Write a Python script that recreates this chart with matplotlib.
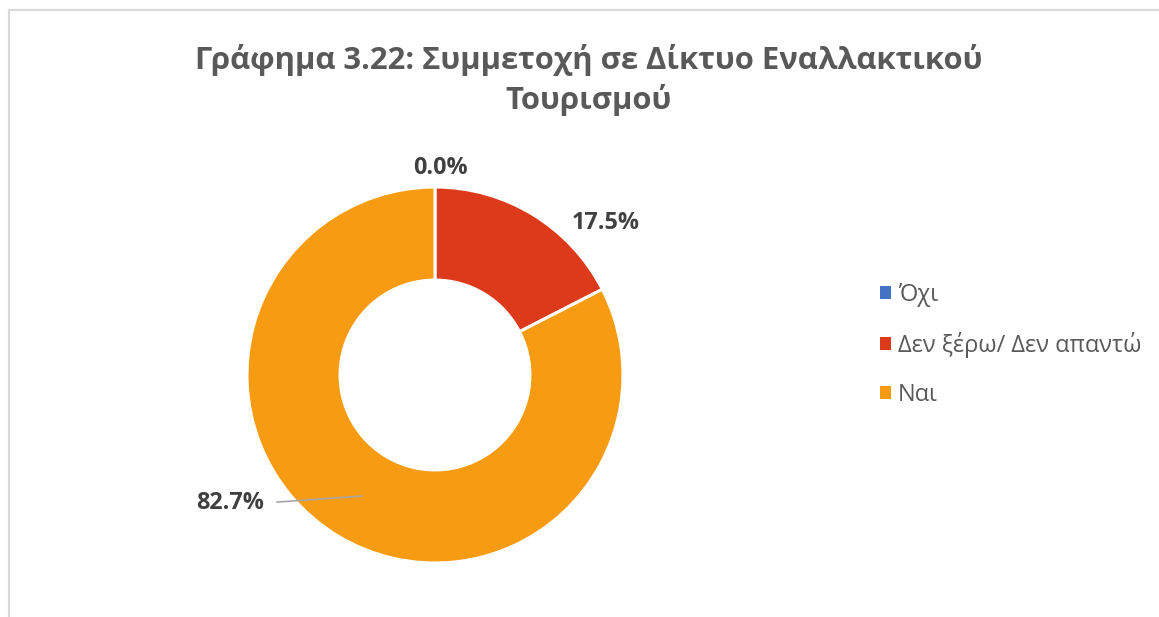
import matplotlib
matplotlib.use("Agg")
import matplotlib.pyplot as plt
from matplotlib.patches import Patch
from matplotlib.lines import Line2D

plt.rcParams["font.family"] = ["Open Sans", "DejaVu Sans"]

TITLE = "Γράφημα 3.22: Συμμετοχή σε Δίκτυο Εναλλακτικού\nΤουρισμού"
categories = ["Όχι", "Δεν ξέρω/ Δεν απαντώ", "Ναι"]
shares = [0.0, 17.5, 82.7]
colors = ["#4472C4", "#DC3A1A", "#F79B12"]
# label anchor points (data units, radius = 1), picked like Excel's best fit
label_pos = [(0.03, 1.10), (0.91, 0.81), (-1.09, -0.68)]

TEXT_DARK = "#404040"
TEXT_GREY = "#595959"

fig = plt.figure(figsize=(11.59, 6.17), dpi=100)

# light frame on top and left, like the cropped Excel chart area
fig.add_artist(Line2D([9 / 1159, 9 / 1159], [0, 1 - 10 / 617],
                      color="#D9D9D9", linewidth=1.5))
fig.add_artist(Line2D([9 / 1159, 1], [1 - 10 / 617, 1 - 10 / 617],
                      color="#D9D9D9", linewidth=1.5))

ax = fig.add_axes([247 / 1159, 54 / 617, 376 / 1159, 376 / 617])
wedges, _ = ax.pie(shares, colors=colors, startangle=90, counterclock=False,
                   radius=1.0,
                   wedgeprops=dict(width=0.495, edgecolor="white", linewidth=2.2))
ax.set_xlim(-1, 1)
ax.set_ylim(-1, 1)
ax.set_aspect("equal")
ax.axis("off")

for val, (x, y) in zip(shares, label_pos):
    ax.text(x, y, f"{val:.1f}%", ha="center", va="center", fontsize=16.8,
            fontweight="bold", color=TEXT_DARK, clip_on=False)

# leader line for the big slice
ax.plot([-0.84, -0.39], [-0.676, -0.644], color="#A6A6A6", linewidth=1.2,
        clip_on=False)

fig.text(589 / 1159, 1 - 80 / 617, TITLE, ha="center", va="center",
         fontsize=22.3, fontweight="bold", color=TEXT_GREY, linespacing=1.3)

handles = [Patch(facecolor=c, edgecolor="none") for c in colors]
fig.legend(handles, categories, loc="center left",
           bbox_to_anchor=(859 / 1159, 1 - 345 / 617), frameon=False,
           fontsize=17, labelcolor=TEXT_GREY, handlelength=0.45,
           handleheight=0.45, handletextpad=0.3, labelspacing=1.05)

fig.savefig("out.png", dpi=100)
